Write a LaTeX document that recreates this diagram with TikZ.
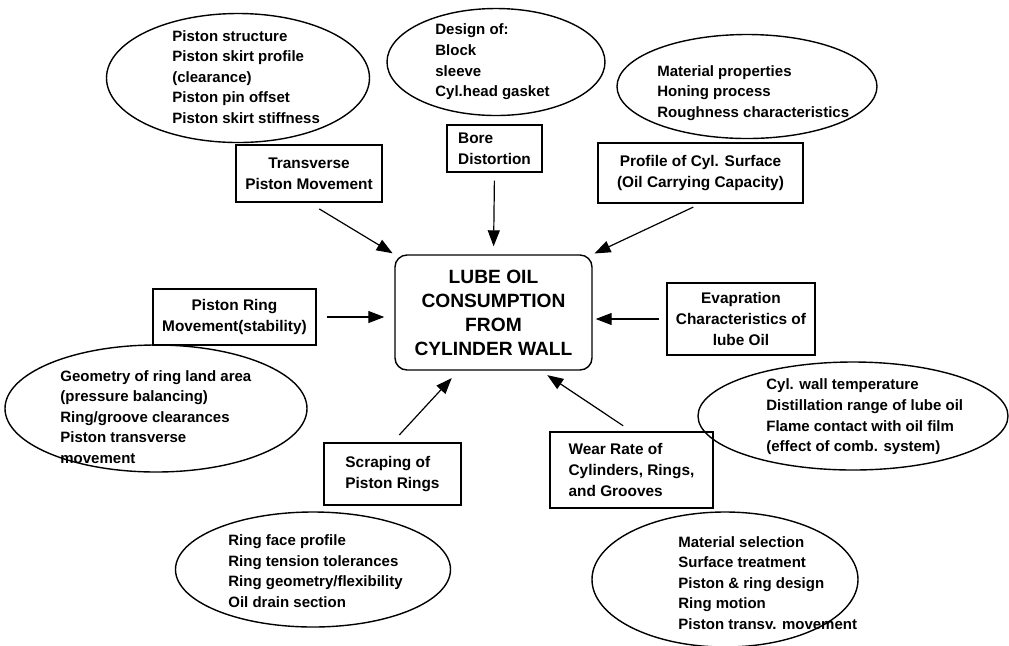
\documentclass[tikz,border=0pt]{standalone}
\usepackage{fontspec}
\setmainfont{Liberation Sans}
\usetikzlibrary{shapes.geometric,arrows.meta}

\begin{document}
\begin{tikzpicture}[x=0.5pt,y=-0.5pt,
  box/.style={draw,line width=0.7pt,inner sep=0pt,font=\fontsize{7.7}{10.6}\selectfont\bfseries},
  bubble/.style={draw,ellipse,line width=0.7pt,inner sep=0pt},
  note/.style={anchor=west,align=left,inner sep=0pt,font=\fontsize{7.5}{10.3}\selectfont\bfseries},
  arr/.style={-{Triangle[length=8pt,width=6pt]},line width=0.6pt}]
\useasboundingbox (0,0) rectangle (1009,645);

% centre
\node[box,rounded corners=6pt,minimum width=98.5pt,minimum height=57.5pt,align=center,
  font=\fontsize{9.6}{12}\selectfont\bfseries] (lube) at (493.5,312.5) {LUBE OIL\\CONSUMPTION\\FROM\\CYLINDER WALL};

% factors
\node[box,minimum width=73pt,minimum height=28.5pt,align=center] (trans) at (309,173.5) {Transverse\\Piston Movement};
\node[box,minimum width=47.5pt,minimum height=23.5pt,align=left] (bore) at (494.5,148.5) {Bore\\Distortion};
\node[box,minimum width=102.5pt,minimum height=30pt,align=center] (surf) at (700.5,173) {Profile of Cyl. Surface\\(Oil Carrying Capacity)};
\node[box,minimum width=81.5pt,minimum height=28pt,align=center] (ring) at (234.5,317) {Piston Ring\\Movement(stability)};
\node[box,minimum width=74pt,minimum height=36pt,align=center] (evap) at (741,319) {Evapration\\Characteristics of\\lube Oil};
\node[box,minimum width=68.5pt,minimum height=31pt,align=left] (scrap) at (392.5,474) {Scraping of\\Piston Rings};
\node[box,minimum width=81.5pt,minimum height=38pt,align=left] (wear) at (631.5,470) {Wear Rate of\\Cylinders, Rings,\\and Grooves};

% causes
\node[bubble,minimum width=131.5pt,minimum height=64.5pt] (skirt) at (238,78) {};
\node[note] (skirttxt) at (172,77) {Piston structure\\Piston skirt profile\\(clearance)\\Piston pin offset\\Piston skirt stiffness};

\node[bubble,minimum width=109pt,minimum height=53.5pt] (design) at (496,62) {};
\node[note] (designtxt) at (435,62) {Design of:\\Block\\sleeve\\Cyl.head gasket};

\node[bubble,minimum width=130pt,minimum height=52pt] (honing) at (747,86.5) {};
\node[note] (honingtxt) at (657,93) {Material properties\\Honing process\\Roughness characteristics};

\node[bubble,minimum width=151pt,minimum height=63.5pt] (land) at (156,408.5) {};
\node[note] (landtxt) at (60,417) {Geometry of ring land area\\(pressure balancing)\\Ring/groove clearances\\Piston transverse\\movement};

\node[bubble,minimum width=137.5pt,minimum height=57.5pt] (face) at (313,569.5) {};
\node[note] (facetxt) at (228,571) {Ring face profile\\Ring tension tolerances\\Ring geometry/flexibility\\Oil drain section};

\node[bubble,minimum width=155pt,minimum height=54pt] (temp) at (853,416) {};
\node[note] (temptxt) at (766,417) {Cyl. wall temperature\\Distillation range of lube oil\\Flame contact with oil film\\(effect of comb. system)};

\node[bubble,minimum width=133pt,minimum height=67.5pt] (matsel) at (725,579.5) {};
\node[note] (matseltxt) at (678,583) {Material selection\\Surface treatment\\Piston \& ring design\\Ring motion\\Piston transv. movement};

% arrows
\draw[arr,shorten <=6pt,shorten >=1pt] (trans.south) -- (lube.north west);
\draw[arr,shorten <=4pt,shorten >=4pt] (bore.south) -- (lube.north);
\draw[arr,shorten <=4pt,shorten >=1pt] (surf.south) -- (lube.north east);
\draw[arr,shorten <=5pt,shorten >=5pt] (ring.east) -- (lube.west |- ring.east);
\draw[arr,shorten <=3.5pt,shorten >=1.5pt] (evap.west) -- (lube.east |- evap.west);
\draw[arr,shorten <=5pt,shorten >=5pt] (scrap.north) -- (lube.239);
\draw[arr,shorten <=5pt,shorten >=4pt] (wear.north) -- (lube.309);
\end{tikzpicture}
\end{document}
